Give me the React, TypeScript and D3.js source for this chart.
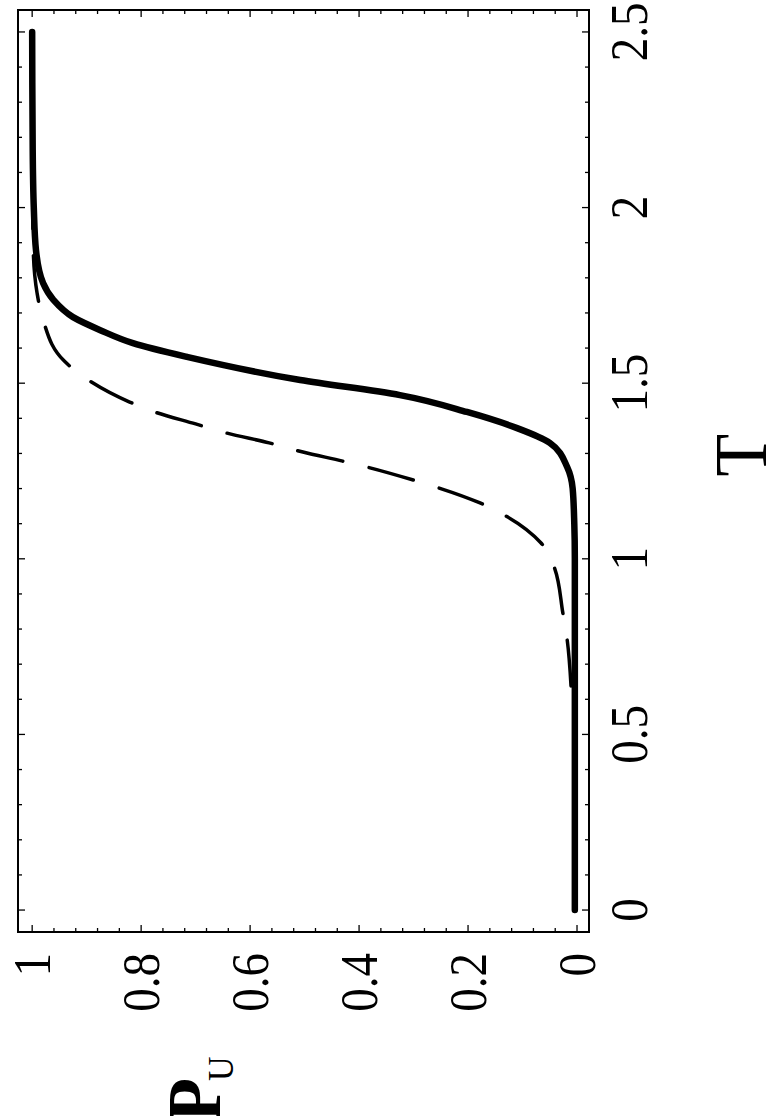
import React from 'react';
import * as d3 from 'd3';

const tSolid = [0, 0.25, 0.5, 0.75, 1.0, 1.1, 1.2, 1.261, 1.33, 1.372, 1.418, 1.466, 1.509, 1.575, 1.614, 1.651, 1.688, 1.737, 1.785, 1.879, 2.0, 2.164, 2.5];
const pSolid = [0.004, 0.004, 0.004, 0.004, 0.004, 0.005, 0.008, 0.018, 0.05, 0.11, 0.202, 0.325, 0.508, 0.716, 0.815, 0.875, 0.925, 0.961, 0.98, 0.993, 0.997, 0.999, 1.0];

const tDashed = [0.638, 0.769, 0.846, 0.977, 1.045, 1.125, 1.159, 1.204, 1.224, 1.261, 1.278, 1.304, 1.33, 1.358, 1.384, 1.418, 1.447, 1.512, 1.563, 1.68, 1.757, 1.879, 2.0];
const pDashed = [0.011, 0.018, 0.026, 0.042, 0.066, 0.134, 0.178, 0.258, 0.3, 0.385, 0.43, 0.503, 0.565, 0.643, 0.7, 0.775, 0.822, 0.9, 0.941, 0.98, 0.991, 0.998, 0.999];

const tTickLabels = ['0', '0.5', '1', '1.5', '2', '2.5'];
const pTickLabels = ['0', '0.2', '0.4', '0.6', '0.8', '1'];

const font = '"Liberation Serif", "DejaVu Serif", serif';

export default function App() {
  // the plot is drawn upright and then turned a quarter turn counter-clockwise
  const W = 922; // along T
  const H = 571; // along P
  const left = 18, bottom = 932;
  const stretch = 1.12; // glyphs in the reference are a little taller than wide

  const x = d3.scaleLinear().domain([-0.0625, 2.5625]).range([0, W]);
  const y = d3.scaleLinear().domain([-0.022, 1.026]).range([H, 0]);

  const solidPath = d3.line<[number, number]>()
    .x(d => x(d[0])).y(d => y(d[1]))
    .curve(d3.curveMonotoneX)(tSolid.map((t, i) => [t, pSolid[i]]));
  const dashedPath = d3.line<[number, number]>()
    .x(d => x(d[0])).y(d => y(d[1]))
    .curve(d3.curveMonotoneX)(tDashed.map((t, i) => [t, pDashed[i]]));

  const tTicks = d3.range(0, 26).map(i => ({ v: i * 0.1, major: i % 5 === 0 }));
  const pTicks = d3.range(0, 26).map(i => ({ v: i * 0.04, major: i % 5 === 0 }));
  const majLen = 7, minLen = 4;

  return (
    <svg width={782} height={1116} style={{ position: 'absolute', left: 0, top: 0, background: '#fff' }}>
      <g transform={`translate(${left},${bottom}) rotate(-90)`} fontFamily={font}>
        <rect x={0} y={0} width={W} height={H} fill="none" stroke="#000" strokeWidth={2} />

        {tTicks.map((t, i) => {
          const len = t.major ? majLen : minLen;
          return (
            <g key={'t' + i} stroke="#000" strokeWidth={1.3}>
              <line x1={x(t.v)} x2={x(t.v)} y1={H} y2={H - len} />
              <line x1={x(t.v)} x2={x(t.v)} y1={0} y2={len} />
            </g>
          );
        })}
        {pTicks.map((p, i) => {
          const len = p.major ? majLen : minLen;
          return (
            <g key={'p' + i} stroke="#000" strokeWidth={1.3}>
              <line x1={0} x2={len} y1={y(p.v)} y2={y(p.v)} />
              <line x1={W} x2={W - len} y1={y(p.v)} y2={y(p.v)} />
            </g>
          );
        })}

        {tTickLabels.map(s => (
          <text key={'tl' + s} transform={`translate(${x(+s)},${H + 58}) scale(1,${stretch})`}
            textAnchor="middle" fontSize={47}>{s}</text>
        ))}
        {pTickLabels.map(s => (
          <text key={'pl' + s} transform={`translate(-21,${y(+s)}) scale(1,${stretch})`}
            dy="0.34em" textAnchor="end" fontSize={47}>{s}</text>
        ))}

        <path d={dashedPath || ''} fill="none" stroke="#000" strokeWidth={3.5} strokeDasharray="46 27" strokeLinecap="round" />
        <path d={solidPath || ''} fill="none" stroke="#000" strokeWidth={6.5} strokeLinecap="round" />

        <text transform={`translate(${W / 2 + 16},${H + 177}) scale(1,1.05)`} textAnchor="middle" fontSize={70}>T</text>
        <text transform={`translate(-190,${H - 369}) scale(1,1.05)`} fontSize={72} fontWeight="bold">
          P<tspan fontSize={34} fontWeight="normal" dx={-3} dy={12}>U</tspan>
        </text>
      </g>
    </svg>
  );
}
